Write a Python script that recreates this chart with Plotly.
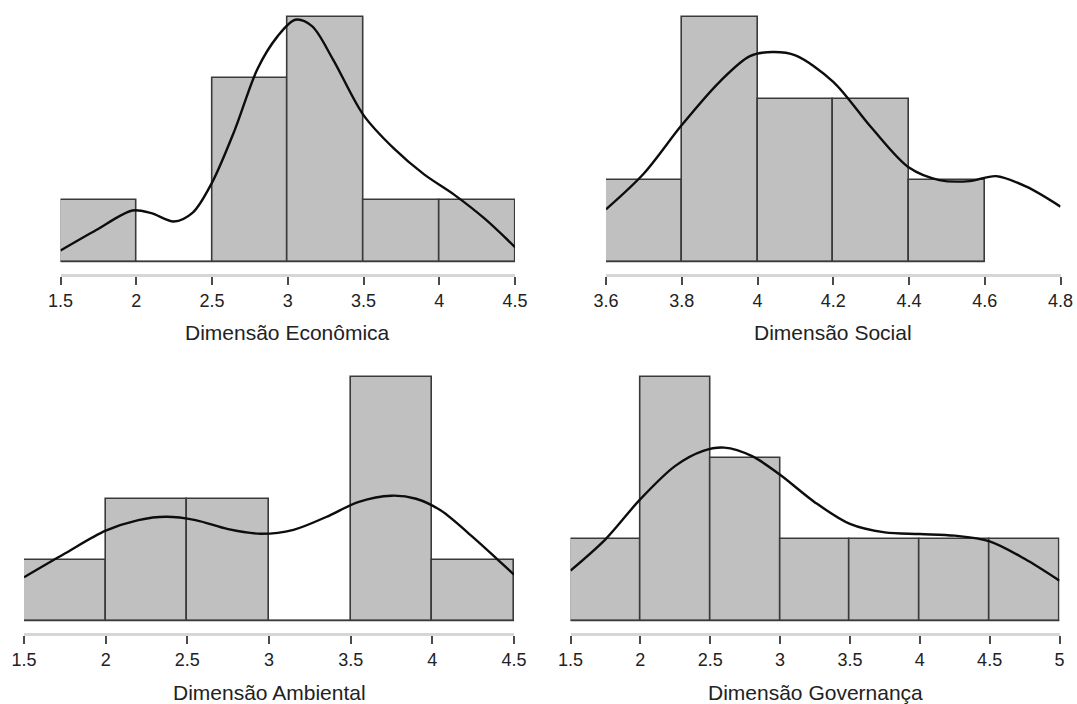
import plotly.graph_objects as go

W, H = 1077, 704

# ---- Dimensão Econômica ----
eco_edges = [1.5, 2.0, 2.5, 3.0, 3.5, 4.0, 4.5]
eco_counts = [1, 0, 3, 4, 1, 1]
eco_kde_x = [1.5, 1.736, 1.975, 2.1, 2.248, 2.373, 2.5, 2.65, 2.8, 2.93, 3.05,
             3.16, 3.3, 3.5, 3.7, 3.9, 4.1, 4.3, 4.5]
eco_kde_y = [0.036, 0.103, 0.167, 0.158, 0.131, 0.160, 0.258, 0.430, 0.630, 0.735, 0.791,
             0.770, 0.660, 0.479, 0.370, 0.285, 0.218, 0.140, 0.047]
eco_ticks = [1.5, 2, 2.5, 3, 3.5, 4, 4.5]

# ---- Dimensão Social ----
soc_edges = [3.6, 3.8, 4.0, 4.2, 4.4, 4.6]
soc_counts = [1, 3, 2, 2, 1]
soc_kde_x = [3.6, 3.7, 3.8, 3.9, 3.98, 4.04, 4.1, 4.2, 4.3, 4.4, 4.48,
             4.56, 4.63, 4.71, 4.8]
soc_kde_y = [0.356, 0.600, 0.930, 1.225, 1.400, 1.428, 1.405, 1.225, 0.915, 0.640, 0.555,
             0.548, 0.582, 0.510, 0.374]
soc_ticks = [3.6, 3.8, 4, 4.2, 4.4, 4.6, 4.8]

# ---- Dimensão Ambiental ----
amb_edges = [1.5, 2.0, 2.5, 3.0, 3.5, 4.0, 4.5]
amb_counts = [1, 2, 2, 0, 4, 1]
amb_kde_x = [1.5, 1.75, 2.0, 2.2, 2.37, 2.55, 2.75, 2.95, 3.15, 3.35, 3.55, 3.75,
             3.9, 4.05, 4.25, 4.4, 4.5]
amb_kde_y = [0.142, 0.220, 0.295, 0.330, 0.341, 0.330, 0.300, 0.285, 0.298, 0.340, 0.390, 0.410,
             0.400, 0.362, 0.273, 0.200, 0.151]
amb_ticks = [1.5, 2, 2.5, 3, 3.5, 4, 4.5]

# ---- Dimensão Governança ----
gov_edges = [1.5, 2.0, 2.5, 3.0, 3.5, 4.0, 4.5, 5.0]
gov_counts = [1, 3, 2, 1, 1, 1, 1]
gov_kde_x = [1.5, 1.75, 2.0, 2.25, 2.45, 2.6, 2.8, 3.0, 3.25, 3.5, 3.75, 4.0,
             4.25, 4.5, 4.75, 5.0]
gov_kde_y = [0.123, 0.200, 0.299, 0.381, 0.418, 0.426, 0.405, 0.359, 0.291, 0.238, 0.217, 0.213,
             0.209, 0.195, 0.152, 0.098]
gov_ticks = [1.5, 2, 2.5, 3, 3.5, 4, 4.5, 5]

titles = ["Dimensão Econômica", "Dimensão Social", "Dimensão Ambiental", "Dimensão Governança"]

FONT = "Liberation Sans, Arial, Helvetica, sans-serif"
BAR_FILL = "#c0c0c0"
BAR_EDGE = "#3a3a3a"
TEXT = "#222222"

# pixel frame of each panel: (x of first tick, x of last tick, bar top, bar baseline, axis line)
panels = [
    (eco_edges, eco_counts, eco_kde_x, eco_kde_y, eco_ticks, (60.5, 515.0, 17.0, 261.5, 274.0), 332),
    (soc_edges, soc_counts, soc_kde_x, soc_kde_y, soc_ticks, (606.0, 1060.5, 17.0, 261.5, 274.0), 332),
    (amb_edges, amb_counts, amb_kde_x, amb_kde_y, amb_ticks, (24.0, 514.0, 377.0, 620.5, 633.0), 692),
    (gov_edges, gov_counts, gov_kde_x, gov_kde_y, gov_ticks, (570.5, 1059.5, 377.0, 620.5, 633.0), 692),
]

fig = go.Figure()
annotations = []

for i, (edges, counts, kx, ky, ticks, frame, title_y) in enumerate(panels):
    k = "" if i == 0 else str(i + 1)
    xref, yref = "x" + k, "y" + k
    x0px, x1px, ytop, ybase, yaxis_px = frame

    n = sum(counts)
    widths = [edges[j + 1] - edges[j] for j in range(len(counts))]
    centers = [(edges[j] + edges[j + 1]) / 2 for j in range(len(counts))]
    dens = [c / (n * w) for c, w in zip(counts, widths)]
    dmax = max(dens)

    # baseline under all bins (also visible across empty bins)
    fig.add_trace(go.Scatter(x=[edges[0], edges[-1]], y=[0, 0], mode="lines",
                             line=dict(color=BAR_EDGE, width=1.6),
                             xaxis=xref, yaxis=yref, showlegend=False, hoverinfo="skip"))
    fig.add_trace(go.Bar(x=centers, y=dens, width=widths,
                         marker=dict(color=BAR_FILL, line=dict(color=BAR_EDGE, width=1.6)),
                         xaxis=xref, yaxis=yref, showlegend=False))
    fig.add_trace(go.Scatter(x=kx, y=ky, mode="lines",
                             line=dict(color="#0d0d0d", width=2.4, shape="spline", smoothing=0.9),
                             xaxis=xref, yaxis=yref, showlegend=False, cliponaxis=False))

    # vertical placement: zero on the baseline, the tallest bar at ytop
    pad = 4.0
    per_px = dmax / (ybase - ytop)
    y_lo = -(yaxis_px - ybase) * per_px
    y_hi = dmax + pad * per_px
    ydom = [1 - yaxis_px / H, 1 - (ytop - pad) / H]
    xdom = [x0px / W, x1px / W]

    fig.layout["xaxis" + k] = dict(
        domain=xdom, anchor=yref, range=[ticks[0], ticks[-1]], automargin=False,
        tickmode="array", tickvals=ticks, ticktext=[f"{t:g}" for t in ticks],
        showline=True, linecolor="#d6d6d6", linewidth=3,
        ticks="outside", ticklen=8, tickwidth=2, tickcolor="#4a4a4a",
        showgrid=False, zeroline=False,
        tickfont=dict(family=FONT, size=18, color=TEXT),
    )
    fig.layout["yaxis" + k] = dict(
        domain=ydom, anchor=xref, range=[y_lo, y_hi], automargin=False,
        visible=False, showgrid=False, zeroline=False,
    )
    annotations.append(dict(
        text=titles[i], xref="paper", yref="paper",
        x=(x0px + x1px) / 2 / W, y=1 - title_y / H,
        xanchor="center", yanchor="middle", showarrow=False,
        font=dict(family=FONT, size=21, color=TEXT),
    ))

fig.update_layout(
    width=W, height=H,
    margin=dict(l=0, r=0, t=0, b=0, autoexpand=False),
    paper_bgcolor="white", plot_bgcolor="rgba(0,0,0,0)",
    annotations=annotations,
    bargap=0,
    showlegend=False,
)

fig.write_html("out.html", config={"displayModeBar": False})
